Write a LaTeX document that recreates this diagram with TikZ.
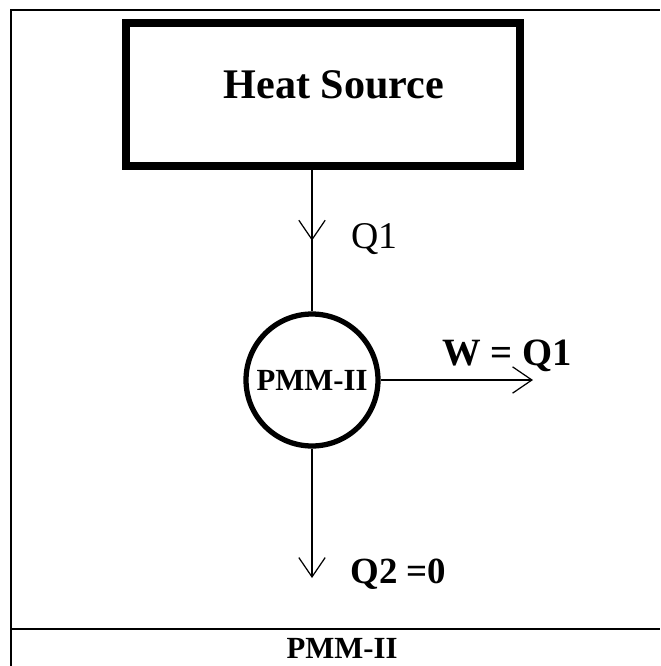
\documentclass[tikz,border=0pt]{standalone}
\usepackage{fontspec}
\setmainfont{Liberation Serif}
\usetikzlibrary{arrows.meta,decorations.markings}

\begin{document}
\begin{tikzpicture}[
        x=0.02cm,
        y=-0.02cm,
        source/.style={
            rectangle,
            draw,
            line width=4.5pt,
            minimum width=7.88cm,
            minimum height=2.86cm,
            inner sep=0pt,
            text depth=0.4cm,
            font=\fontsize{24}{28}\selectfont\bfseries
        },
        engine/.style={
            circle,
            draw,
            line width=3pt,
            minimum size=2.64cm,
            inner sep=0pt,
            font=\fontsize{17.5}{21}\selectfont\bfseries
        },
        flow/.style={
            line width=1.1pt
        },
        barb/.style={
            -{Straight Barb[length=11pt,width=15pt,line width=0.7pt]}
        },
        midbarb/.style={
            postaction={decorate},
            decoration={markings,
                mark=at position 0.5 with {\arrow{Straight Barb[length=11pt,width=15pt,line width=0.7pt]}}}
        },
        qlabel/.style={
            anchor=base west,
            inner sep=0pt,
            font=\fontsize{21.5}{26}\selectfont
        }
    ]

        \useasboundingbox (0,0) rectangle (660,666);

        % frame of the table cell
        \draw[line width=1.1pt] (11,666) -- (11,10) -- (660,10);
        \draw[line width=1.1pt] (11,629) -- (660,629);

        \node[source] (src) at (323,94.5) {\hspace*{0.44cm}Heat Source};
        \node[engine] (eng) at (312,380) {PMM-II};

        \coordinate (work) at (533,380);
        \coordinate (sink) at (312,578);

        \draw[flow,midbarb] (src.south -| eng.north) -- (eng.north);
        \draw[flow,barb] (eng.east) -- (work);
        \draw[flow,barb] (eng.south) -- (sink);

        \node[qlabel] (q1) at (351,248) {Q1};
        \node[qlabel,font=\fontsize{22}{26}\selectfont\bfseries] (w) at (442,365) {W = Q1};
        \node[qlabel,font=\fontsize{21}{25}\selectfont\bfseries] (q2) at (350,583) {Q2 =0};

        \node[font=\fontsize{17.5}{21}\selectfont\bfseries] (caption) at (342,648) {PMM-II};

    \end{tikzpicture}
\end{document}
